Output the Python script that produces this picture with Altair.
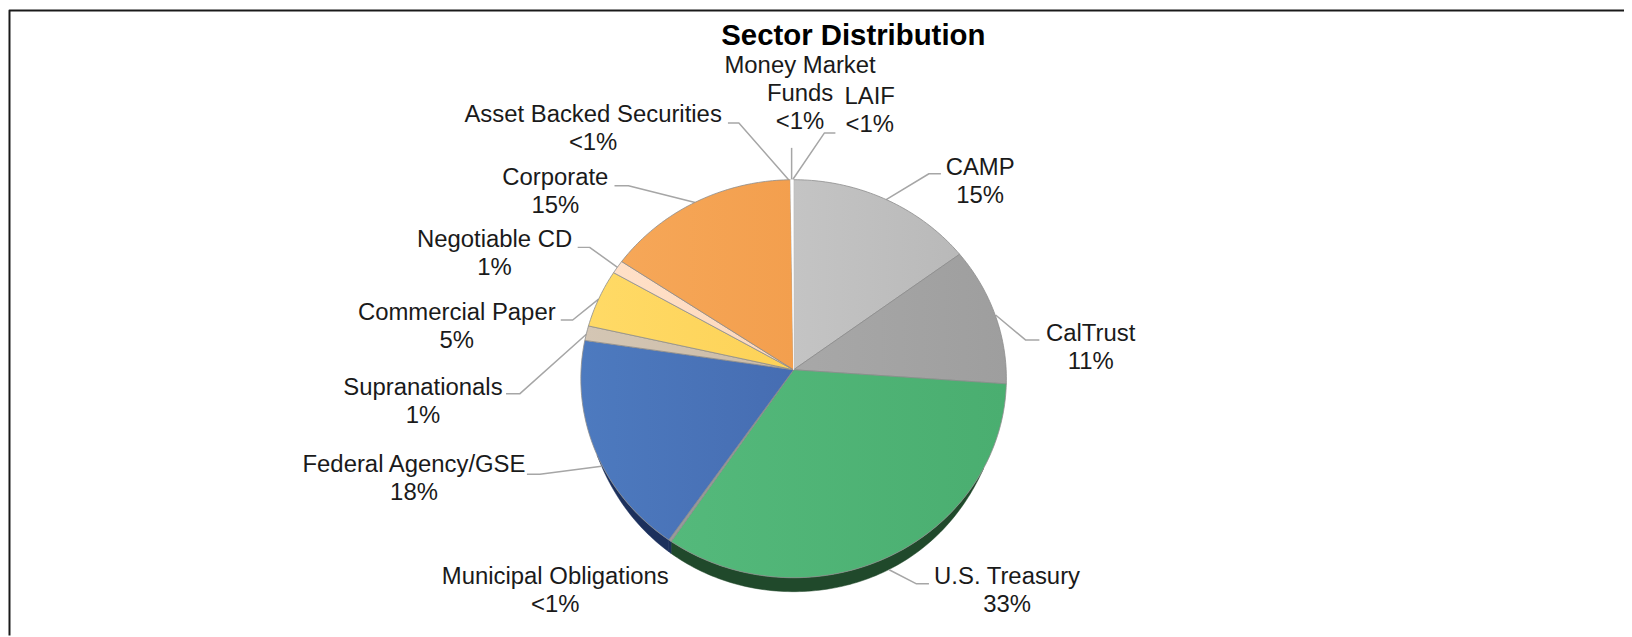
import math
import altair as alt
import pandas as pd

# ---- chart values (percent of portfolio, clockwise from 12 o'clock)
sectors = ["CAMP", "CalTrust", "U.S. Treasury", "Municipal Obligations", "Federal Agency/GSE",
           "Supranationals", "Commercial Paper", "Negotiable CD", "Corporate",
           "Asset Backed Securities", "Money Market Funds", "LAIF"]
shares = [14.8, 11.3, 33.2, 0.2, 17.8, 1.2, 4.75, 1.1, 15.3, 0.1, 0.05, 0.1]
shown = ["15%", "11%", "33%", "<1%", "18%", "1%", "5%", "1%", "15%", "<1%", "<1%", "<1%"]
title_text = "Sector Distribution"

# ---- label lines, one list per sector
label_lines = [["CAMP"], ["CalTrust"], ["U.S. Treasury"], ["Municipal Obligations"], ["Federal Agency/GSE"],
               ["Supranationals"], ["Commercial Paper"], ["Negotiable CD"], ["Corporate"],
               ["Asset Backed Securities"], ["Money Market", "Funds"], ["LAIF"]]

# ---- layout and style
label_pos = [(985, 167), (1096, 334), (1012, 578.5), (558, 578.5), (416, 466),
             (425, 388), (459, 313), (497, 240), (558, 177.5), (596, 114), (804, 65), (874, 96)]
line_step = 28
LEADER_DX = 3.5
leaders = {
    "CAMP": [(942, 173), (930, 173), (887, 199)],
    "CalTrust": [(1041, 340), (1027, 340), (997, 315)],
    "U.S. Treasury": [(930, 585), (917, 585), (890, 571)],
    "Federal Agency/GSE": [(526, 475), (539, 475), (601, 467)],
    "Supranationals": [(505, 394), (519, 394), (586, 334)],
    "Commercial Paper": [(560, 320), (572, 320), (598, 299)],
    "Negotiable CD": [(577, 247), (589, 247), (617, 267)],
    "Corporate": [(614, 185), (628, 185), (695, 202)],
    "Asset Backed Securities": [(728, 122), (739, 122), (789, 179)],
    "Money Market Funds": [(792, 147), (792, 179)],
    "LAIF": [(836, 132), (825, 132), (793, 179)],
}
fills = {
    "CAMP": ("#c4c4c4", "#b9b9b9"),
    "CalTrust": ("#a8a8a8", "#9e9e9e"),
    "U.S. Treasury": ("#54b97b", "#4aae70"),
    "Municipal Obligations": ("#9a9a9a", "#9a9a9a"),
    "Federal Agency/GSE": ("#4d7abf", "#466db2"),
    "Supranationals": ("#d4c6b4", "#cbbba6"),
    "Commercial Paper": ("#ffda66", "#fdd257"),
    "Negotiable CD": ("#ffe0c8", "#fdd8bb"),
    "Corporate": ("#f6a758", "#f39f4e"),
    "Asset Backed Securities": ("#ffffff", "#ffffff"),
    "Money Market Funds": ("#ffffff", "#ffffff"),
    "LAIF": ("#ffffff", "#ffffff"),
}
tiny_white = {"Asset Backed Securities", "Money Market Funds", "LAIF"}
side_fills = {"U.S. Treasury": "#20492b", "Federal Agency/GSE": "#1c305c", "Municipal Obligations": "#1c305c"}
CX, CY, RX, RY, K, DEPTH = 797.5, 370, 213.6, 199.6, 0.045, 14
WALL_FROM, WALL_TO = 119, 245
WIDTH, HEIGHT = 1624, 629
LABEL_FONT = "Liberation Sans"
LABEL_SIZE = 24
TITLE_SIZE = 29.5


def project(deg):
    a = math.radians(deg)
    u, v = math.sin(a), math.cos(a)
    w = 1 + K * v
    return CX + RX * u / w, CY - RY * v / w


def wall_depth(deg):
    limit = (180 - WALL_FROM) if deg < 180 else (WALL_TO - 180)
    return DEPTH * max(0.0, 1 - (abs(deg - 180) / limit) ** 3)


xs = alt.X("x:Q", scale=alt.Scale(domain=[8, 8 + WIDTH], nice=False, zero=False), axis=None)
ys = alt.Y("y:Q", scale=alt.Scale(domain=[8 + HEIGHT, 8], nice=False, zero=False), axis=None)
order = alt.Order("i:Q")


def outline(points, fill=None, stroke="#8c8c8c", width=0.8):
    df = pd.DataFrame([{"x": p[0], "y": p[1], "i": n} for n, p in enumerate(points)])
    kw = {"stroke": stroke, "strokeWidth": width, "strokeJoin": "round"}
    if fill is not None:
        kw["fill"] = fill
    return alt.Chart(df).mark_line(**kw).encode(x=xs, y=ys, order=order)


layers = []
# frame
layers.append(outline([(9.5, 637), (9.5, 9), (1632, 9)], stroke="#1a1a1a", width=2))

# slice spans from the shares
total = sum(shares)
spans = {}
acc = 0.0
for name, share in zip(sectors, shares):
    start = acc / total * 360
    acc += share
    spans[name] = (start, acc / total * 360)


def degs(a, b):
    n = max(2, int((b - a) / 1.0) + 1)
    return [a + (b - a) * k / (n - 1) for k in range(n)]


def arc_points(a, b):
    return [project(d) for d in degs(a, b)]


# side wall
for name, colour in side_fills.items():
    a, b = spans[name]
    ds = degs(max(a, WALL_FROM), min(b, WALL_TO))
    rim = [project(d) for d in ds]
    low = [(project(d)[0], project(d)[1] + wall_depth(d)) for d in reversed(ds)]
    pts = rim + low + rim[:1]
    layers.append(outline(pts, fill=colour, stroke=colour, width=0.5))

# leaders under the slices
for name, pts in leaders.items():
    layers.append(outline([(x + LEADER_DX, y) for x, y in pts], stroke="#a6a6a6", width=1.5))

# top faces
for name in sectors:
    a, b = spans[name]
    c1, c2 = fills[name]
    grad = {"gradient": "linear", "x1": 0, "y1": 0, "x2": 1, "y2": 0,
            "stops": [{"offset": 0, "color": c1}, {"offset": 1, "color": c2}]}
    pts = [(CX, CY)] + arc_points(a, b) + [(CX, CY)]
    if name in tiny_white:
        layers.append(outline(pts, fill=grad, stroke="#ffffff", width=0.3))
    else:
        layers.append(outline(pts, fill=grad))

# labels
rows = []
for name, lines, pct, (lx, ly) in zip(sectors, label_lines, shown, label_pos):
    for n, line in enumerate(lines + [pct]):
        rows.append({"x": lx, "y": ly + n * line_step, "t": line})
layers.append(alt.Chart(pd.DataFrame(rows)).mark_text(
    font=LABEL_FONT, fontSize=LABEL_SIZE, color="#1a1a1a", align="center", baseline="middle"
).encode(x=xs, y=ys, text="t:N"))

layers.append(alt.Chart(pd.DataFrame([{"x": 857.5, "y": 35, "t": title_text}])).mark_text(
    font=LABEL_FONT, fontSize=TITLE_SIZE, fontWeight="bold", color="#000000", align="center", baseline="middle"
).encode(x=xs, y=ys, text="t:N"))

chart = alt.layer(*layers).properties(
    width=WIDTH, height=HEIGHT, padding=0, autosize=alt.AutoSizeParams(type="none"),
    background="white"
).configure_view(stroke=None)

chart.save("out.html", embed_options={"renderer": "svg", "actions": False})
